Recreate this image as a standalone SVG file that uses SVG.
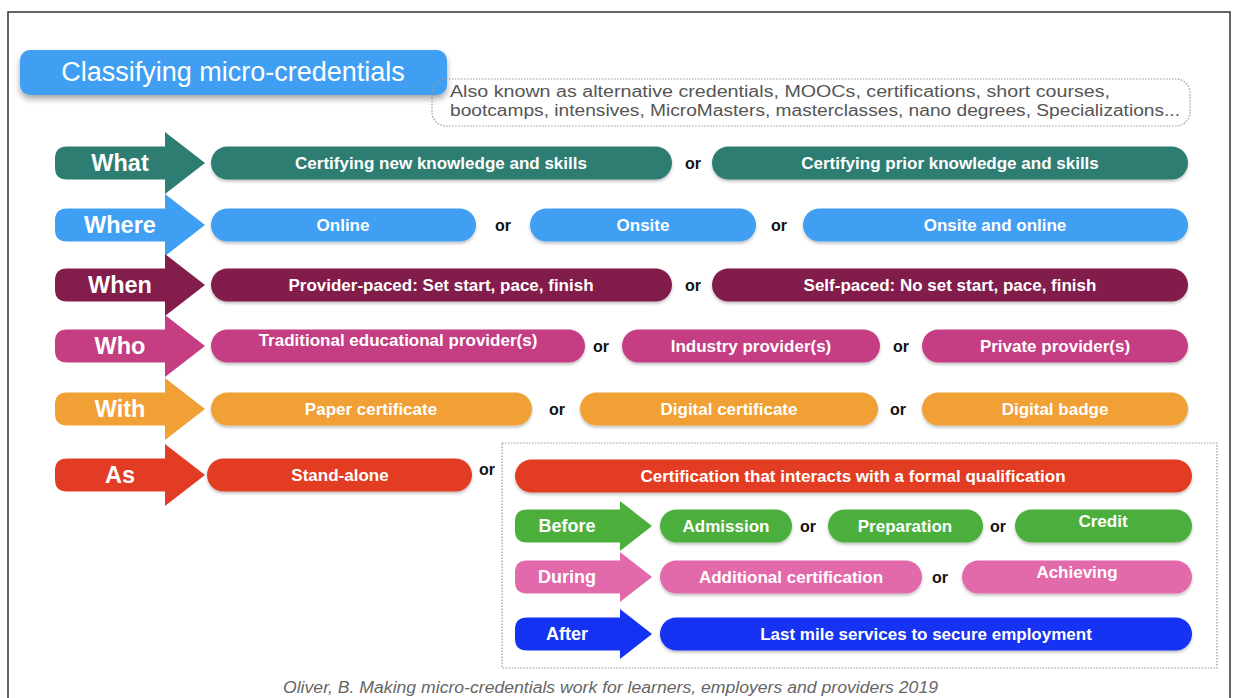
<svg xmlns="http://www.w3.org/2000/svg" width="1235" height="698" viewBox="0 0 1235 698">
<style>
.lbl{font-family:"Liberation Sans",Arial,sans-serif;fill:#fff;text-anchor:middle}
.hd{font-size:23.5px;font-weight:bold}
.pt{font-size:17px;font-weight:bold}
.sa{font-size:18px;font-weight:bold}
.or{font-family:"Liberation Sans",Arial,sans-serif;font-size:16px;font-weight:bold;fill:#111;text-anchor:middle}
.note{font-family:"Liberation Sans",Arial,sans-serif;font-size:16px;fill:#555}
.cite{font-family:"Liberation Sans",Arial,sans-serif;font-size:16px;font-style:italic;fill:#666}
.dot{fill:none;stroke:#999;stroke-width:1.2;stroke-dasharray:1.5 1.5}
</style>
<defs>
<filter id="sh" x="-5%" y="-20%" width="110%" height="150%">
<feDropShadow dx="0" dy="2" stdDeviation="1.5" flood-color="#000" flood-opacity="0.25"/>
</filter>
<filter id="sh2" x="-5%" y="-30%" width="110%" height="170%">
<feDropShadow dx="0" dy="4" stdDeviation="3" flood-color="#000" flood-opacity="0.35"/>
</filter>
<path id="bigArrow" d="M12,-16.5 H110 V-31 L150,0 L110,31 V16.5 H12 Q0,16.5 0,4.5 V-4.5 Q0,-16.5 12,-16.5 Z"/>
<path id="smallArrow" d="M12,-16.5 H105 V-25 L137,0 L105,25 V16.5 H12 Q0,16.5 0,4.5 V-4.5 Q0,-16.5 12,-16.5 Z"/>
</defs>
<rect width="1235" height="698" fill="#fff"/>
<rect x="8" y="12" width="1222" height="700" fill="none" stroke="#333" stroke-width="1.5"/>

<g id="title">
<rect x="20" y="50" width="427" height="45" rx="10" fill="#3f9ff2" filter="url(#sh2)"/>
<text class="lbl" x="233" y="81" style="font-size:27px">Classifying micro-credentials</text>
</g>
<g id="aka">
<rect class="dot" x="432" y="79" width="758" height="47" rx="14"/>
<text class="note" x="450" y="97" textLength="660" lengthAdjust="spacingAndGlyphs">Also known as alternative credentials, MOOCs, certifications, short courses,</text>
<text class="note" x="450" y="116" textLength="730" lengthAdjust="spacingAndGlyphs">bootcamps, intensives, MicroMasters, masterclasses, nano degrees, Specializations...</text>
</g>

<g id="connectors"></g>

<g id="row-what" fill="#2d7d73">
<use href="#bigArrow" transform="translate(55,163)"/>
<text class="lbl hd" x="120" y="171">What</text>
<rect x="211" y="146.5" width="461" height="33" rx="16.5" filter="url(#sh)"/>
<text class="lbl pt" x="441" y="169">Certifying new knowledge and skills</text>
<text class="or" x="693" y="169">or</text>
<rect x="712" y="146.5" width="476" height="33" rx="16.5" filter="url(#sh)"/>
<text class="lbl pt" x="950" y="169">Certifying prior knowledge and skills</text>
</g>

<g id="row-where" fill="#3f9ff2">
<use href="#bigArrow" transform="translate(55,225)"/>
<text class="lbl hd" x="120" y="233">Where</text>
<rect x="211" y="208.5" width="265" height="33" rx="16.5" filter="url(#sh)"/>
<text class="lbl pt" x="343" y="231">Online</text>
<text class="or" x="503" y="231">or</text>
<rect x="530" y="208.5" width="226" height="33" rx="16.5" filter="url(#sh)"/>
<text class="lbl pt" x="643" y="231">Onsite</text>
<text class="or" x="779" y="231">or</text>
<rect x="803" y="208.5" width="385" height="33" rx="16.5" filter="url(#sh)"/>
<text class="lbl pt" x="995" y="231">Onsite and online</text>
</g>

<g id="row-when" fill="#821d4c">
<use href="#bigArrow" transform="translate(55,285)"/>
<text class="lbl hd" x="120" y="293">When</text>
<rect x="211" y="268.5" width="461" height="33" rx="16.5" filter="url(#sh)"/>
<text class="lbl pt" x="441" y="291">Provider-paced: Set start, pace, finish</text>
<text class="or" x="693" y="291">or</text>
<rect x="712" y="268.5" width="476" height="33" rx="16.5" filter="url(#sh)"/>
<text class="lbl pt" x="950" y="291">Self-paced: No set start, pace, finish</text>
</g>

<g id="row-who" fill="#c53e82">
<use href="#bigArrow" transform="translate(55,346)"/>
<text class="lbl hd" x="120" y="354">Who</text>
<rect x="211" y="329.5" width="374" height="33" rx="16.5" filter="url(#sh)"/>
<text class="lbl pt" x="398" y="346">Traditional educational provider(s)</text>
<text class="or" x="601" y="352">or</text>
<rect x="622" y="329.5" width="258" height="33" rx="16.5" filter="url(#sh)"/>
<text class="lbl pt" x="751" y="352">Industry provider(s)</text>
<text class="or" x="901" y="352">or</text>
<rect x="922" y="329.5" width="266" height="33" rx="16.5" filter="url(#sh)"/>
<text class="lbl pt" x="1055" y="352">Private provider(s)</text>
</g>

<g id="row-with" fill="#f0a035">
<use href="#bigArrow" transform="translate(55,409)"/>
<text class="lbl hd" x="120" y="417">With</text>
<rect x="211" y="392.5" width="321" height="33" rx="16.5" filter="url(#sh)"/>
<text class="lbl pt" x="371" y="415">Paper certificate</text>
<text class="or" x="557" y="415">or</text>
<rect x="580" y="392.5" width="298" height="33" rx="16.5" filter="url(#sh)"/>
<text class="lbl pt" x="729" y="415">Digital certificate</text>
<text class="or" x="898" y="415">or</text>
<rect x="922" y="392.5" width="266" height="33" rx="16.5" filter="url(#sh)"/>
<text class="lbl pt" x="1055" y="415">Digital badge</text>
</g>

<g id="row-as" fill="#e23d24">
<use href="#bigArrow" transform="translate(55,475)"/>
<text class="lbl hd" x="120" y="483">As</text>
<rect x="207" y="458.5" width="265" height="33" rx="16.5" filter="url(#sh)"/>
<text class="lbl pt" x="340" y="481">Stand-alone</text>
<text class="or" x="487" y="475">or</text>
</g>

<g id="formal">
<rect class="dot" x="502" y="443" width="715" height="225"/>
<rect x="515" y="459.5" width="677" height="33" rx="16.5" fill="#e23d24" filter="url(#sh)"/>
<text class="lbl pt" x="853" y="482">Certification that interacts with a formal qualification</text>
</g>

<g id="row-before" fill="#4caf3c">
<use href="#smallArrow" transform="translate(515,526)"/>
<text class="lbl sa" x="567" y="532">Before</text>
<rect x="660" y="509.5" width="132" height="33" rx="16.5" filter="url(#sh)"/>
<text class="lbl pt" x="726" y="532">Admission</text>
<text class="or" x="808" y="532">or</text>
<rect x="828" y="509.5" width="155" height="33" rx="16.5" filter="url(#sh)"/>
<text class="lbl pt" x="905" y="532">Preparation</text>
<text class="or" x="998" y="532">or</text>
<rect x="1015" y="509.5" width="177" height="33" rx="16.5" filter="url(#sh)"/>
<text class="lbl pt" x="1103" y="527">Credit</text>
</g>

<g id="row-during" fill="#e26aaa">
<use href="#smallArrow" transform="translate(515,577)"/>
<text class="lbl sa" x="567" y="583">During</text>
<rect x="660" y="560.5" width="262" height="33" rx="16.5" filter="url(#sh)"/>
<text class="lbl pt" x="791" y="583">Additional certification</text>
<text class="or" x="940" y="583">or</text>
<rect x="962" y="560.5" width="230" height="33" rx="16.5" filter="url(#sh)"/>
<text class="lbl pt" x="1077" y="578">Achieving</text>
</g>

<g id="row-after" fill="#1432f2">
<use href="#smallArrow" transform="translate(515,634)"/>
<text class="lbl sa" x="567" y="640">After</text>
<rect x="660" y="617.5" width="532" height="33" rx="16.5" filter="url(#sh)"/>
<text class="lbl pt" x="926" y="640">Last mile services to secure employment</text>
</g>

<g id="citation">
<text class="cite" x="283" y="693" textLength="655" lengthAdjust="spacingAndGlyphs">Oliver, B. Making micro-credentials work for learners, employers and providers 2019</text>
</g>
</svg>
